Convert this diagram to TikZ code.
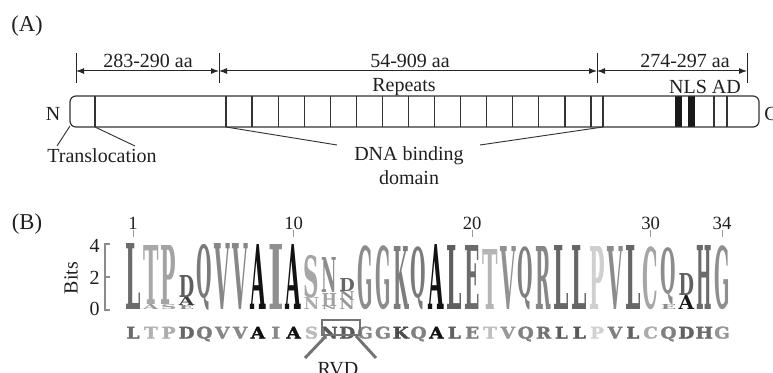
\documentclass[tikz,border=0pt]{standalone}
\usepackage{fontspec}
\usepackage{graphicx}
\setmainfont{Liberation Serif}
\newfontfamily\lgf{DejaVu Serif}
\newfontfamily\csf{DejaVu Serif}[BoldFeatures={FakeBold=2}]
\usetikzlibrary{arrows.meta}
\begin{document}
\begin{tikzpicture}[x=0.75pt,y=-0.75pt,
  lab/.style={inner sep=0pt,text=black!88,font=\fontsize{15}{17}\selectfont},
  num/.style={inner sep=0pt,text=black!88,font=\fontsize{14}{16}\selectfont},
  barline/.style={draw=black!80,line width=0.9pt},
  dimline/.style={draw=black!85,line width=0.75pt},
  dimarrow/.style={dimline,{Latex[length=6pt,width=4.5pt]}-{Latex[length=6pt,width=4.5pt]}},
  leader/.style={draw=black!80,line width=0.7pt},
  axisline/.style={draw=black!45,line width=1.2pt},
  rvdline/.style={draw=black!55,line width=2.2pt}]
\useasboundingbox (0,0) rectangle (773,373);
% ---------------- (A) ----------------
\node[lab,font=\fontsize{17}{19}\selectfont] (labA) at (27,26) {(A)};
% dimension ticks
\foreach \x/\n in {76/t1,219/t2,597/t3,747/t4}{
  \coordinate (\n top) at (\x,53);
  \coordinate (\n bot) at (\x,83);
  \coordinate (\n) at (\x,71);
  \draw[dimline] (\n top) -- (\n bot);
}
\draw[dimarrow] (t1) -- (t2);
\draw[dimarrow] (t2) -- (t3);
\draw[dimarrow] (t3) -- (t4);
\node[lab] (d1) at (148,61) {283-290 aa};
\node[lab] (d2) at (410,61) {54-909 aa};
\node[lab] (d3) at (685,61) {274-297 aa};
\node[lab] (rep) at (404,87) {Repeats};
\node[lab] (nlsad) at (705,87) {NLS AD};
% bar
\fill[black!90] (675,96) rectangle (682,127);
\fill[black!90] (688,96) rectangle (695,127);
\draw[barline,rounded corners=4.5pt] (70,96) rectangle (759,127);
\foreach \x in {95,603,714,727}{\draw[barline] (\x,96) -- (\x,127);}
\foreach \k in {0,...,14}{\draw[barline] ({226+\k*26.07},96) -- ({226+\k*26.07},127);}
\node[lab] (Nt) at (53,114) {N};
\node[lab,anchor=west] (Ct) at (764,114) {C};
% leaders
\coordinate (bl) at (70,126);
\coordinate (tr1) at (95,127);
\coordinate (dn1) at (226,127);
\coordinate (dn2) at (603,127);
\node[lab] (trans) at (102,156) {Translocation};
\node[lab,align=center,font=\fontsize{15}{18}\selectfont] (dna) at (409,166) {DNA binding\\domain};
\draw[leader] (bl) -- (57,146);
\draw[leader] (tr1) -- (135,146);
\draw[leader] (dn1) -- (337,145);
\draw[leader] (dn2) -- (480,145);
% ---------------- (B) ----------------
\node[lab,font=\fontsize{17}{19}\selectfont] (labB) at (27,224) {(B)};
\node[lab,rotate=90] (bits) at (71,278) {Bits};
\draw[axisline] (110,244) -- (105,244) -- (105,310) -- (110,310);
\draw[axisline] (105,277) -- (110,277);
\node[lab,anchor=east] (b4) at (100,246) {4};
\node[lab,anchor=east] (b2) at (100,278) {2};
\node[lab,anchor=east] (b0) at (100,309) {0};
% position numbers
\foreach \i in {1,10,20,30,34}{
  \node[num] (pn\i) at ({133+(\i-1)*17.85},223) {\i};
  \draw[draw=black!40,line width=0.6pt] ({133+(\i-1)*17.85},230) -- ({133+(\i-1)*17.85},237);
}
% logo letters: position/bottom/top/letter/darkness
\foreach \i/\b/\t/\l/\c in {
 1/310/244/L/58, 2/310/305/A/40, 2/305/246/T/34, 3/310/305/S/40, 3/305/246/P/36,
 4/310/306/E/45, 4/306/297/A/77, 4/297/275/D/63, 5/310/244/Q/52, 6/310/244/V/47,
 7/310/244/V/47, 8/310/245/A/93, 9/310/245/I/44, 10/310/245/A/93,
 11/310/298/N/33, 11/298/255/S/35, 12/310/306/N/40, 12/306/293/H/37, 12/293/258/N/45,
 13/310/300/N/40, 13/300/292/N/45, 13/292/279/D/60, 14/310/246/G/45, 15/310/246/G/45,
 16/310/247/K/51, 17/310/247/Q/52, 18/310/245/A/93, 19/310/246/L/63, 20/310/246/E/58,
 21/310/250/T/29, 22/310/247/V/43, 23/310/247/Q/50, 24/310/247/R/47, 25/310/246/L/60,
 26/310/246/L/60, 27/310/247/P/19, 28/310/247/V/45, 29/310/246/L/60, 30/310/247/C/35,
 31/310/305/E/45, 31/305/248/Q/45, 32/310/296/A/90, 32/296/274/D/62, 33/310/246/H/58,
 34/310/246/G/44}{
  \pgfmathsetmacro\h{(\b-\t)*0.75}
  \node[anchor=south,inner sep=0pt,outer sep=0pt,text=black!\c] (lg\i\l) at ({133+(\i-1)*17.85},\b)
    {\resizebox*{11.6pt}{\h pt}{\lgf\bfseries \l}};
}
% consensus row
\foreach \i/\l/\c in {1/L/58,2/T/30,3/P/32,4/D/60,5/Q/52,6/V/47,7/V/47,8/A/93,9/I/47,10/A/93,
 11/S/27,12/N/65,13/D/65,14/G/47,15/G/47,16/K/70,17/Q/50,18/A/93,19/L/62,20/E/50,
 21/T/25,22/V/40,23/Q/50,24/R/55,25/L/65,26/L/65,27/P/18,28/V/50,29/L/62,30/C/33,
 31/Q/50,32/D/62,33/H/58,34/G/42}{
  \node[anchor=base,inner sep=0pt,text=black!\c] (cs\i) at ({133+(\i-1)*17.85},338.5)
    {\scalebox{1.15}[1]{\fontsize{12}{13}\csf\bfseries \l}};
}
% RVD box
\draw[rvdline,line width=1.8pt] (322,320) rectangle (360,335);
\coordinate (rl) at (326,336);
\coordinate (rr) at (356,336);
\node[lab,anchor=base] (rvd) at (338,375.5) {RVD};
\draw[rvdline] (rl) -- (305,358);
\draw[rvdline] (rr) -- (376,358);
\end{tikzpicture}
\end{document}
